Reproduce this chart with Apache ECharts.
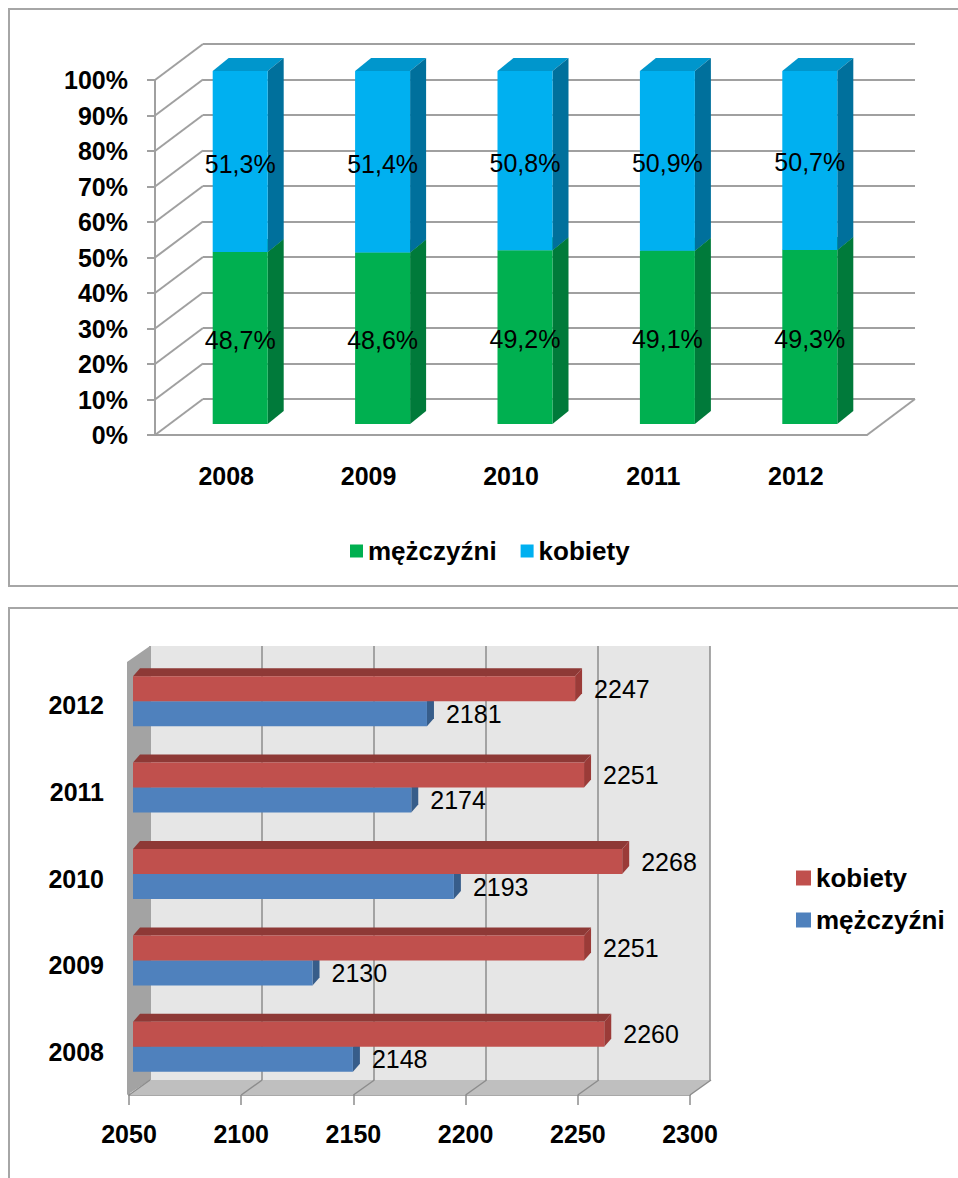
<!DOCTYPE html>
<html>
<head>
<meta charset="utf-8">
<title>kobiety i mężczyźni</title>
<script src="https://cdn.jsdelivr.net/npm/echarts@6.0.0/dist/echarts.min.js"></script>
<style>
    html, body {margin: 0; padding: 0; background: #fff; overflow: hidden;}
    body {width: 958px; height: 1178px; position: relative;}
    .box {position: absolute; border: 2px solid #a6a6a6; box-sizing: border-box;}
    .chart {position: absolute; left: 0; width: 958px;}
</style>
</head>
<body>
<div class="box" style="left:8px;top:8px;width:970px;height:579px;"></div>
<div class="box" style="left:8px;top:607px;width:970px;height:600px;"></div>
<div class="chart" id="share" style="top:0;height:596px;"></div>
<div class="chart" id="count" style="top:598px;height:580px;"></div>
<script>
var years = ['2008', '2009', '2010', '2011', '2012'];
// udział procentowy
var menShare = [48.7, 48.6, 49.2, 49.1, 49.3];
var womenShare = [51.3, 51.4, 50.8, 50.9, 50.7];
var shareTicks = [0, 10, 20, 30, 40, 50, 60, 70, 80, 90, 100];
// liczba osób
var menCount = [2148, 2130, 2193, 2174, 2181];
var womenCount = [2260, 2251, 2268, 2251, 2247];
var countTicks = [2050, 2100, 2150, 2200, 2250, 2300];

var FONT = '"Liberation Sans", Arial, sans-serif';
var axisText = function (extra) {
    return Object.assign({color: '#000', fontFamily: FONT, fontSize: 25, fontWeight: 'bold'}, extra);
};

//słupek 3D pionowy (front, bok, góra) + etykieta
var renderColumn = function (front, side, top) {
    return function (params, api) {
        var i = api.value(0), base = api.value(1), val = api.value(2);
        var pb = api.coord([i, base]), pt = api.coord([i, base + val]);
        var w = 55, dx = 16, dy = 13;
        var x0 = pb[0] - w / 2, x1 = x0 + w;
        return {
            type: 'group',
            children: [
                {type: 'polygon', shape: {points: [[x0, pt[1]], [x1, pt[1]], [x1 + dx, pt[1] - dy], [x0 + dx, pt[1] - dy]]}, style: {fill: top}},
                {type: 'polygon', shape: {points: [[x1, pb[1]], [x1, pt[1]], [x1 + dx, pt[1] - dy], [x1 + dx, pb[1] - dy]]}, style: {fill: side}},
                {type: 'rect', shape: {x: x0, y: pt[1], width: w, height: pb[1] - pt[1]}, style: {fill: front}},
                {type: 'text', x: pb[0], y: (pb[1] + pt[1]) / 2 + 2, style: {
                    text: val.toFixed(1).replace('.', ',') + '%', fill: '#000',
                    fontFamily: FONT, fontSize: 25, align: 'center', verticalAlign: 'middle'}}
            ]
        };
    };
};

var shareChart = echarts.init(document.getElementById('share'), null, {renderer: 'svg'});
shareChart.setOption({
    animation: false,
    grid: [
        {left: 155, top: 80, width: 712, height: 355},
        {left: 203, top: 44, width: 712, height: 355},
        {left: 169, top: 71, width: 712, height: 353}
    ],
    legend: {
        left: 345, top: 533, itemWidth: 13, itemHeight: 13, itemGap: 24, icon: 'rect',
        textStyle: {color: '#000', fontFamily: FONT, fontSize: 26, fontWeight: 'bold'},
        data: ['mężczyźni', 'kobiety']
    },
    xAxis: [
        {gridIndex: 0, type: 'category', data: years,
            axisLine: {lineStyle: {color: '#a0a0a0', width: 2}},
            axisTick: {length: 8, lineStyle: {color: '#a0a0a0', width: 2}},
            axisLabel: axisText({margin: 28})},
        {gridIndex: 1, type: 'category', data: years, show: false},
        {gridIndex: 2, type: 'category', data: years, show: false}
    ],
    yAxis: [
        {gridIndex: 0, type: 'value', min: shareTicks[0], max: shareTicks[shareTicks.length - 1], interval: 10,
            axisLine: {show: true, lineStyle: {color: '#a0a0a0', width: 2}},
            axisTick: {show: true, length: 8, lineStyle: {color: '#a0a0a0', width: 2}},
            splitLine: {show: false},
            axisLabel: axisText({margin: 27, formatter: '{value}%'})},
        {gridIndex: 1, type: 'value', min: 0, max: 100, interval: 10,
            axisLine: {show: false}, axisTick: {show: false}, axisLabel: {show: false},
            splitLine: {lineStyle: {color: '#a0a0a0', width: 2}}},
        {gridIndex: 2, type: 'value', min: 0, max: 100, show: false}
    ],
    series: [
        {   // ukośne linie ściany bocznej
            type: 'custom', xAxisIndex: 0, yAxisIndex: 0, silent: true,
            data: shareTicks.map(function (v) { return [0, v]; }),
            renderItem: function (params, api) {
                var y = api.coord([0, api.value(1)])[1], x = params.coordSys.x;
                return {type: 'line', shape: {x1: x, y1: y, x2: x + 48, y2: y - 36}, style: {stroke: '#a0a0a0', lineWidth: 2}};
            }
        },
        {   // prawa krawędź podłogi
            type: 'custom', xAxisIndex: 0, yAxisIndex: 0, silent: true, data: [[0, 0]],
            renderItem: function (params, api) {
                var cs = params.coordSys, x = cs.x + cs.width, y = cs.y + cs.height;
                return {type: 'line', shape: {x1: x, y1: y, x2: x + 48, y2: y - 36}, style: {stroke: '#a0a0a0', lineWidth: 2}};
            }
        },
        {
            name: 'mężczyźni', type: 'custom', xAxisIndex: 2, yAxisIndex: 2,
            itemStyle: {color: '#00b050'},
            data: menShare.map(function (v, i) { return [i, 0, v]; }),
            renderItem: renderColumn('#00b050', '#007a3a', '#008f45')
        },
        {
            name: 'kobiety', type: 'custom', xAxisIndex: 2, yAxisIndex: 2,
            itemStyle: {color: '#00b0f0'},
            data: womenShare.map(function (v, i) { return [i, menShare[i], v]; }),
            renderItem: renderColumn('#00b0f0', '#00709c', '#0096cc')
        }
    ]
});

//słupek 3D poziomy
var renderBar = function (front, side, top, upper) {
    return function (params, api) {
        var i = api.value(0), val = api.value(1);
        var p0 = api.coord([countTicks[0], i]), p1 = api.coord([val, i]);
        var h = 25, dx = 7, dy = 8;
        var y0 = upper ? p0[1] - h : p0[1], y1 = y0 + h;
        var x0 = p0[0], x1 = p1[0];
        return {
            type: 'group',
            children: [
                {type: 'polygon', shape: {points: [[x0, y0], [x1, y0], [x1 + dx, y0 - dy], [x0 + dx, y0 - dy]]}, style: {fill: top}},
                {type: 'polygon', shape: {points: [[x1, y0], [x1 + dx, y0 - dy], [x1 + dx, y1 - dy], [x1, y1]]}, style: {fill: side}},
                {type: 'rect', shape: {x: x0, y: y0, width: x1 - x0, height: h}, style: {fill: front}},
                {type: 'text', x: x1 + 19, y: y0 + h / 2, style: {
                    text: String(val), fill: '#000', fontFamily: FONT, fontSize: 25,
                    align: 'left', verticalAlign: 'middle'}}
            ]
        };
    };
};

var countChart = echarts.init(document.getElementById('count'), null, {renderer: 'svg'});
countChart.setOption({
    animation: false,
    grid: [
        {left: 129, top: 64, width: 561, height: 433},
        {left: 150, top: 48, width: 560, height: 434, show: true, backgroundColor: '#e6e6e6', borderWidth: 0},
        {left: 133, top: 60, width: 561, height: 432}
    ],
    legend: {
        orient: 'vertical', left: 791, top: 262, itemWidth: 15, itemHeight: 15, itemGap: 16, icon: 'rect',
        textStyle: {color: '#000', fontFamily: FONT, fontSize: 26, fontWeight: 'bold'},
        data: ['kobiety', 'mężczyźni']
    },
    xAxis: [
        {gridIndex: 0, type: 'value', min: countTicks[0], max: countTicks[countTicks.length - 1], interval: 50,
            axisLine: {show: true, lineStyle: {color: '#8c8c8c', width: 1.5}},
            axisTick: {show: true, length: 10, lineStyle: {color: '#8c8c8c', width: 1.5}},
            splitLine: {show: false},
            axisLabel: axisText({margin: 26, formatter: function (v) { return String(v); }})},
        {gridIndex: 1, type: 'value', min: countTicks[0], max: countTicks[countTicks.length - 1], interval: 50,
            axisLine: {show: false}, axisTick: {show: false}, axisLabel: {show: false},
            splitLine: {lineStyle: {color: '#8c8c8c', width: 1.5}}},
        {gridIndex: 2, type: 'value', min: countTicks[0], max: countTicks[countTicks.length - 1], show: false}
    ],
    yAxis: [
        {gridIndex: 0, type: 'category', data: years,
            axisLine: {lineStyle: {color: '#8c8c8c', width: 1.5}},
            axisTick: {length: 7, lineStyle: {color: '#8c8c8c', width: 1.5}},
            axisLabel: axisText({margin: 25})},
        {gridIndex: 1, type: 'category', data: years, show: false},
        {gridIndex: 2, type: 'category', data: years, show: false}
    ],
    series: [
        {   // ściana boczna i podłoga
            type: 'custom', xAxisIndex: 0, yAxisIndex: 0, silent: true, data: [[0]],
            renderItem: function (params, api) {
                var cs = params.coordSys, b = cs.y + cs.height, r = cs.x + cs.width;
                var children = [
                    {type: 'polygon', shape: {points: [[cs.x - 2, cs.y], [cs.x + 21, cs.y - 16], [cs.x + 21, b - 15], [cs.x - 2, b]]}, style: {fill: '#a3a3a3'}},
                    {type: 'polygon', shape: {points: [[cs.x, b], [r, b], [r + 21, b - 15], [cs.x + 21, b - 15]]}, style: {fill: '#bfbfbf'}}
                ];
                countTicks.forEach(function (v) {
                    var x = api.coord([v, 0])[0];
                    children.push({type: 'line', shape: {x1: x, y1: b, x2: x + 21, y2: b - 15}, style: {stroke: '#8c8c8c', lineWidth: 1.5}});
                });
                return {type: 'group', children: children};
            }
        },
        {
            name: 'mężczyźni', type: 'custom', xAxisIndex: 2, yAxisIndex: 2,
            itemStyle: {color: '#4f81bd'},
            data: menCount.map(function (v, i) { return [i, v]; }),
            encode: {x: 1, y: 0},
            renderItem: renderBar('#4f81bd', '#375d8a', '#3d6596', false)
        },
        {
            name: 'kobiety', type: 'custom', xAxisIndex: 2, yAxisIndex: 2,
            itemStyle: {color: '#c0504d'},
            data: womenCount.map(function (v, i) { return [i, v]; }),
            encode: {x: 1, y: 0},
            renderItem: renderBar('#c0504d', '#9b3b38', '#8e3936', true)
        }
    ]
});
</script>
</body>
</html>
